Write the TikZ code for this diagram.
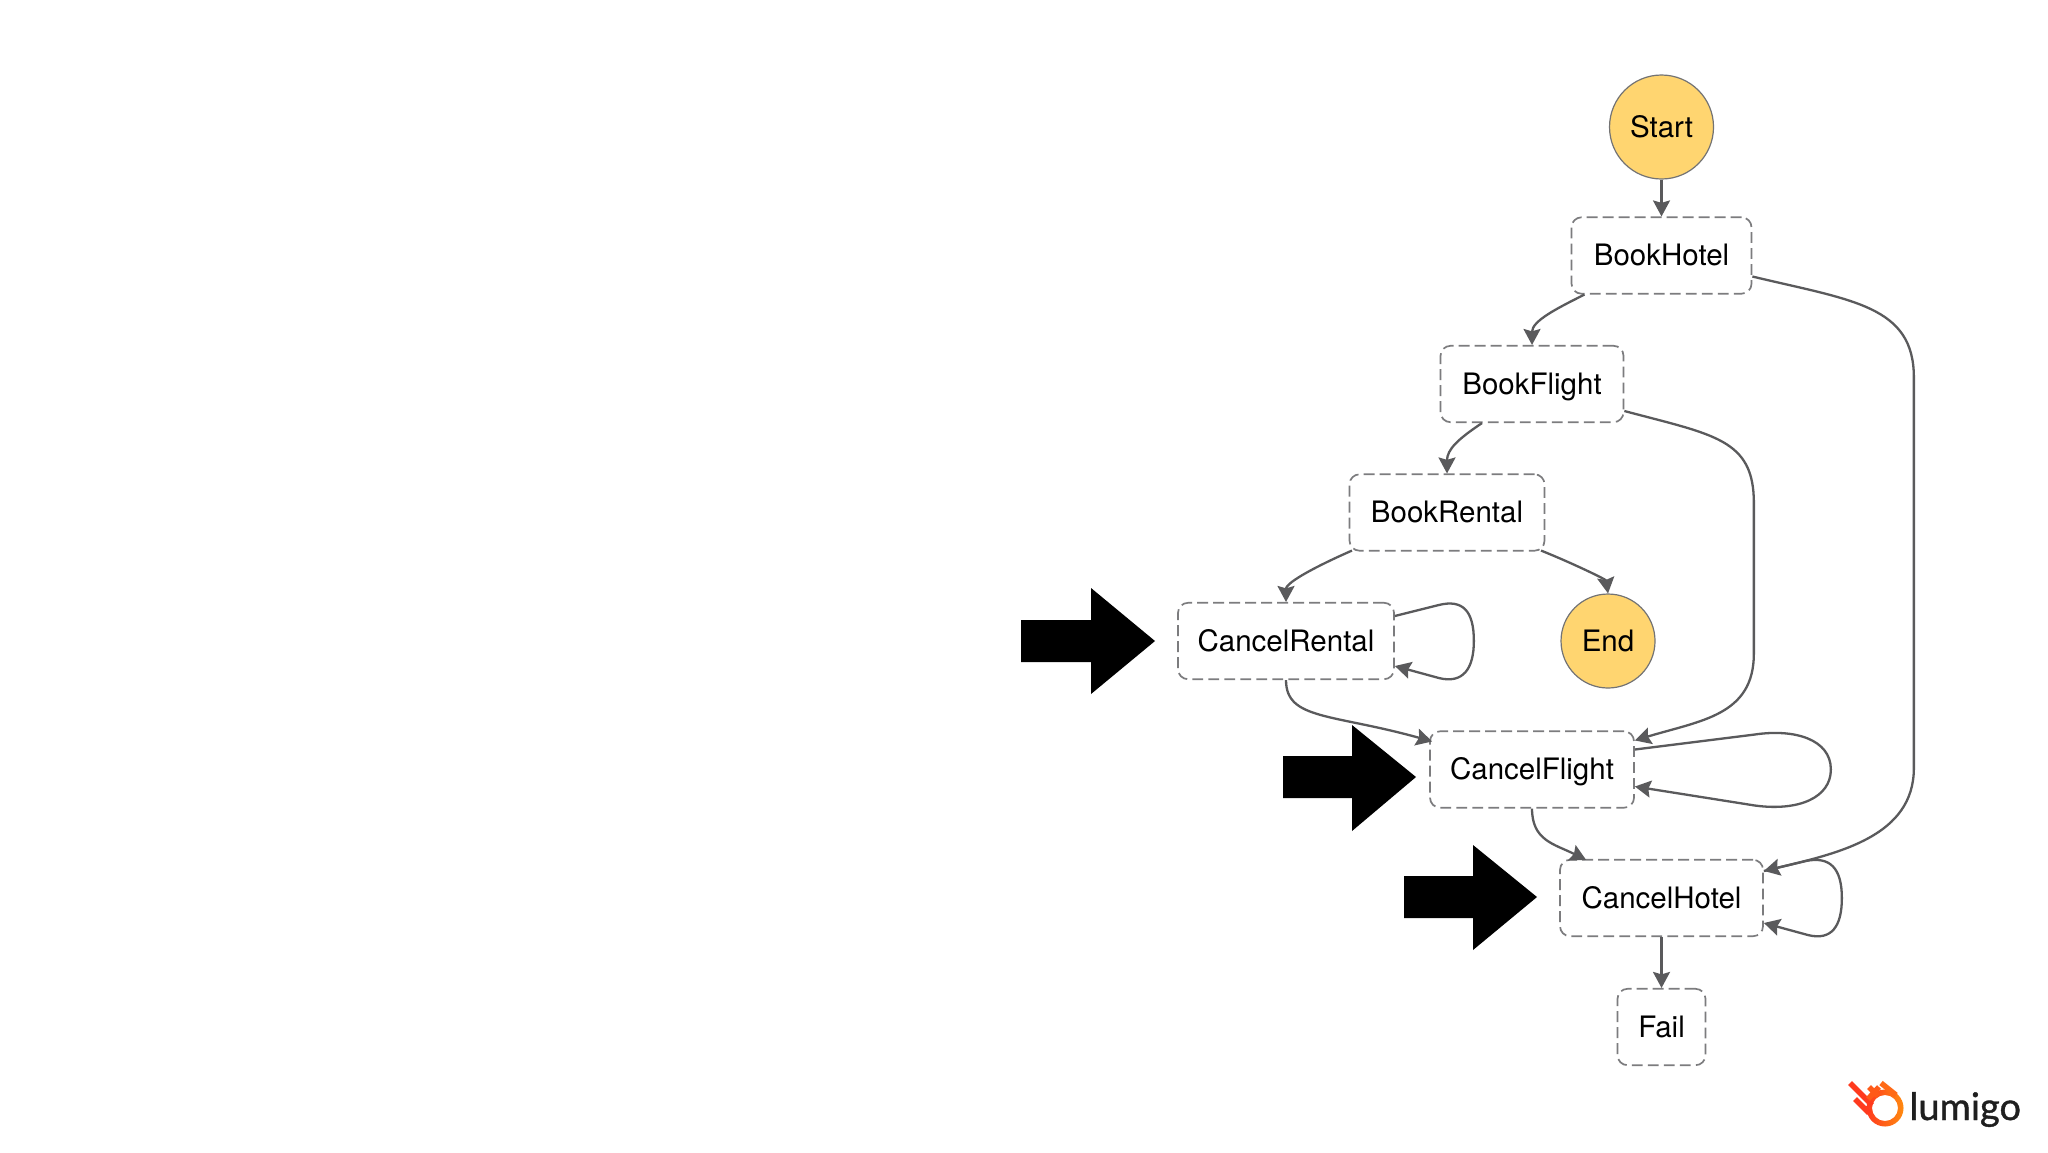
\documentclass[tikz,border=0pt]{standalone}
\usepackage{fontspec}
\setmainfont{TeX Gyre Heros}
\newfontfamily\logofont[FakeBold=1.0]{Lato}
\usetikzlibrary{arrows.meta,calc}
\definecolor{edgec}{HTML}{5A5A5C}
\definecolor{dashc}{HTML}{7C7C7E}
\definecolor{startc}{HTML}{FFD570}
\definecolor{logored}{HTML}{FF3A1E}
\definecolor{logoorange}{HTML}{FF8A10}
\tikzset{
  state/.style={draw=dashc,line width=0.85pt,dash pattern=on 5.4pt off 2.6pt,rounded corners=5pt,fill=white,
    minimum height=38.2pt,inner sep=0pt,text height=10.6pt,text depth=0.3pt,font=\fontsize{14.75}{16}\selectfont,text=black},
  term/.style={circle,draw=edgec!85,line width=0.6pt,fill=startc,inner sep=0pt,font=\fontsize{14.75}{16}\selectfont,text=black},
  edge/.style={draw=edgec,line width=1.15pt,-{Stealth[length=8pt,width=8.5pt,inset=1.2pt]}},
  bigarrow/.style={fill=black,draw=none},
}
\begin{document}
\begin{tikzpicture}[x=0.5pt,y=-0.5pt]
\useasboundingbox (0,0) rectangle (2048,1152);
\fill[white] (0,0) rectangle (2048,1152);
% nodes
\node[term,minimum size=52pt] (start) at (1661.5,127) {Start};
\node[state,minimum width=90pt] (bh) at (1661.5,255.5) {BookHotel};
\node[state,minimum width=91.5pt] (bf) at (1532,384) {BookFlight};
\node[state,minimum width=97.5pt] (br) at (1447,512.5) {BookRental};
\node[state,minimum width=108pt] (cr) at (1286,641) {CancelRental};
\node[term,minimum size=47pt] (endn) at (1608,641) {End};
\node[state,minimum width=102pt] (cf) at (1532,769.5) {CancelFlight};
\node[state,minimum width=101.5pt] (ch) at (1661.5,898) {CancelHotel};
\node[state,minimum width=44pt] (fl) at (1661.5,1027) {Fail};
% connectors
\draw[edge] (start.south) -- (bh.north);
\draw[edge] ($(bh.south)+(-77,0)$) .. controls +(-28,14) and +(0,-24) .. (bf.north);
\draw[edge] ($(bf.south)+(-50,0)$) .. controls +(-24,16) and +(0,-24) .. (br.north);
\draw[edge] ($(br.south)+(-95,-1)$) .. controls +(-32,14) and +(0,-20) .. (cr.north);
\draw[edge] ($(br.south)+(94,-1)$) .. controls +(30,12) and +(-2,-14) .. (endn.north);
\draw[edge] (cr.south) .. controls +(0,40) and +(-100,-28) .. ($(cf.north west)+(3,11)$);
\draw[edge] (cf.south) .. controls +(0,32) and +(-32,-16) .. ($(ch.north west)+(27,1)$);
\draw[edge] (ch.south) -- (fl.north);
% long ones
\draw[edge] ($(bh.east)+(0,21)$) .. controls +(100,24) and +(0,-72) .. ($(bh.east)+(161.5,122)$)
  -- ($(ch.east)+(150,-130)$) .. controls +(0,68) and +(76,-18) .. ($(ch.north east)+(0,12)$);
\draw[edge] ($(bf.east)+(0,27)$) .. controls +(90,24) and +(0,-64) .. ($(bf.east)+(129.5,119)$)
  -- ($(cf.east)+(119,-116)$) .. controls +(0,62) and +(66,-20) .. ($(cf.north east)+(0,10)$);
% self loops
\draw[edge] ($(cr.east)+(0,-25)$) -- ($(cr.east)+(44,-36)$)
  .. controls +(24,-6) and +(0,-30) .. ($(cr.east)+(79,0)$)
  .. controls +(0,28) and +(24,6) .. ($(cr.east)+(44,37)$)
  -- ($(cr.east)+(0,25)$);
\draw[edge] ($(cf.east)+(0,-20)$) -- ($(cf.east)+(120,-35)$)
  .. controls +(40,-6) and +(0,-30) .. ($(cf.east)+(196,0)$)
  .. controls +(0,28) and +(44,6) .. ($(cf.east)+(120,36)$)
  -- ($(cf.east)+(0,17)$);
\draw[edge] ($(ch.east)+(0,-27)$) -- ($(ch.east)+(42,-37)$)
  .. controls +(24,-5) and +(0,-30) .. ($(ch.east)+(78,0)$)
  .. controls +(0,28) and +(24,6) .. ($(ch.east)+(44,37)$)
  -- ($(ch.east)+(0,25)$);
% big arrows
\fill[bigarrow] (1021,620) -- (1091,620) -- (1091,588) -- (1155,641) -- (1091,694) -- (1091,662) -- (1021,662) -- cycle;
\fill[bigarrow] (1283,756) -- (1352,756) -- (1352,725) -- (1416,777) -- (1352,831) -- (1352,798) -- (1283,798) -- cycle;
\fill[bigarrow] (1404,876) -- (1473,876) -- (1473,845) -- (1537,897) -- (1473,950) -- (1473,918) -- (1404,918) -- cycle;
% logo
\path[left color=logored,right color=logoorange,even odd rule] (1885,1108) circle[radius=18.5] (1885,1108) circle[radius=13];
\draw[logored,line width=2.7pt] (1850,1083) -- (1872,1105);
\draw[logored,line width=2.7pt] (1855,1099) -- (1869,1113);
\draw[logored!60!logoorange,line width=2.7pt] (1869,1087) -- (1878,1096) (1879,1087) -- (1868,1099);
\draw[logored!40!logoorange,line width=2.7pt] (1881,1083) -- (1896,1095);
\node[font=\logofont\fontsize{19}{20}\selectfont,text=black!88,anchor=base west,inner sep=0pt] (logo) at (1909,1120) {lumigo};
\end{tikzpicture}
\end{document}
